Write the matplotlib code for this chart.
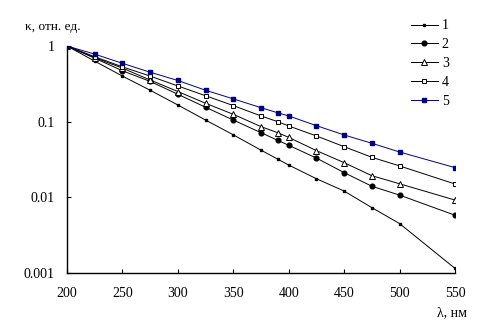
import matplotlib
matplotlib.use("Agg")
import matplotlib.pyplot as plt
from matplotlib.ticker import FixedLocator, FixedFormatter, NullLocator

plt.rcParams["font.family"] = ["Liberation Serif", "DejaVu Serif"]

# длины волн, нм
wl = [200, 225, 250, 275, 300, 325, 350, 375, 390, 400, 425, 450, 475, 500, 550]

k1 = [1.0, 0.63, 0.40, 0.26, 0.166, 0.105, 0.067, 0.042, 0.032, 0.0267,
      0.0176, 0.0121, 0.0073, 0.0045, 0.00115]
k2 = [1.0, 0.69, 0.47, 0.34, 0.23, 0.155, 0.105, 0.0715, 0.0567, 0.0487,
      0.033, 0.0212, 0.014, 0.0107, 0.0058]
k3 = [1.0, 0.70, 0.51, 0.355, 0.25, 0.175, 0.125, 0.086, 0.0715, 0.062,
      0.0414, 0.0287, 0.0193, 0.0151, 0.0092]
k4 = [1.0, 0.72, 0.53, 0.40, 0.296, 0.22, 0.163, 0.119, 0.10, 0.0877,
      0.0647, 0.0467, 0.0338, 0.026, 0.015]
k5 = [1.0, 0.78, 0.59, 0.45, 0.35, 0.26, 0.20, 0.153, 0.131, 0.119,
      0.0885, 0.0667, 0.0518, 0.0397, 0.0247]

labels = ["1", "2", "3", "4", "5"]

fig = plt.figure(figsize=(4.95, 3.28), dpi=100)
ax = fig.add_axes([0.1354, 0.1677, 0.7838, 0.6921])

lw = 0.7
ax.plot(wl, k1, color="black", lw=lw, marker="s", ms=1.8, mfc="black", mec="black", label=labels[0])
ax.plot(wl, k2, color="black", lw=lw, marker="o", ms=3.4, mfc="black", mec="black", label=labels[1])
ax.plot(wl, k3, color="black", lw=lw, marker="^", ms=3.8, mfc="white", mec="black", mew=0.7, label=labels[2])
ax.plot(wl, k4, color="black", lw=lw, marker="s", ms=3.0, mfc="white", mec="black", mew=0.7, label=labels[3])
ax.plot(wl, k5, color="#000080", lw=lw, marker="s", ms=3.4, mfc="#000080", mec="#000080", label=labels[4])

ax.set_yscale("log")
ax.set_xlim(200, 550)
ax.set_ylim(0.001, 1)
ax.set_xticks([200, 250, 300, 350, 400, 450, 500, 550])
ax.yaxis.set_major_locator(FixedLocator([0.001, 0.01, 0.1, 1]))
ax.yaxis.set_major_formatter(FixedFormatter(["0.001", "0.01", "0.1", "1"]))
ax.yaxis.set_minor_locator(NullLocator())
ax.tick_params(direction="in", length=3, width=0.8, labelsize=10)
ax.tick_params(axis="y", pad=9)
ax.tick_params(axis="x", pad=10)

for s in ["top", "right"]:
    ax.spines[s].set_visible(False)
for s in ["left", "bottom"]:
    ax.spines[s].set_linewidth(1.0)

fig.text(25 / 495, 1 - 27 / 328, "κ, отн. ед.", fontsize=9.5, va="center", ha="left")
fig.text(437 / 495, 1 - 313 / 328, "λ, нм", fontsize=10, va="center", ha="left")

ax.legend(loc="upper left", bbox_to_anchor=(0.855, 1.172), frameon=False, fontsize=10,
          handlelength=1.9, handletextpad=0.3, labelspacing=0.42)

fig.savefig("out.png", dpi=100)
